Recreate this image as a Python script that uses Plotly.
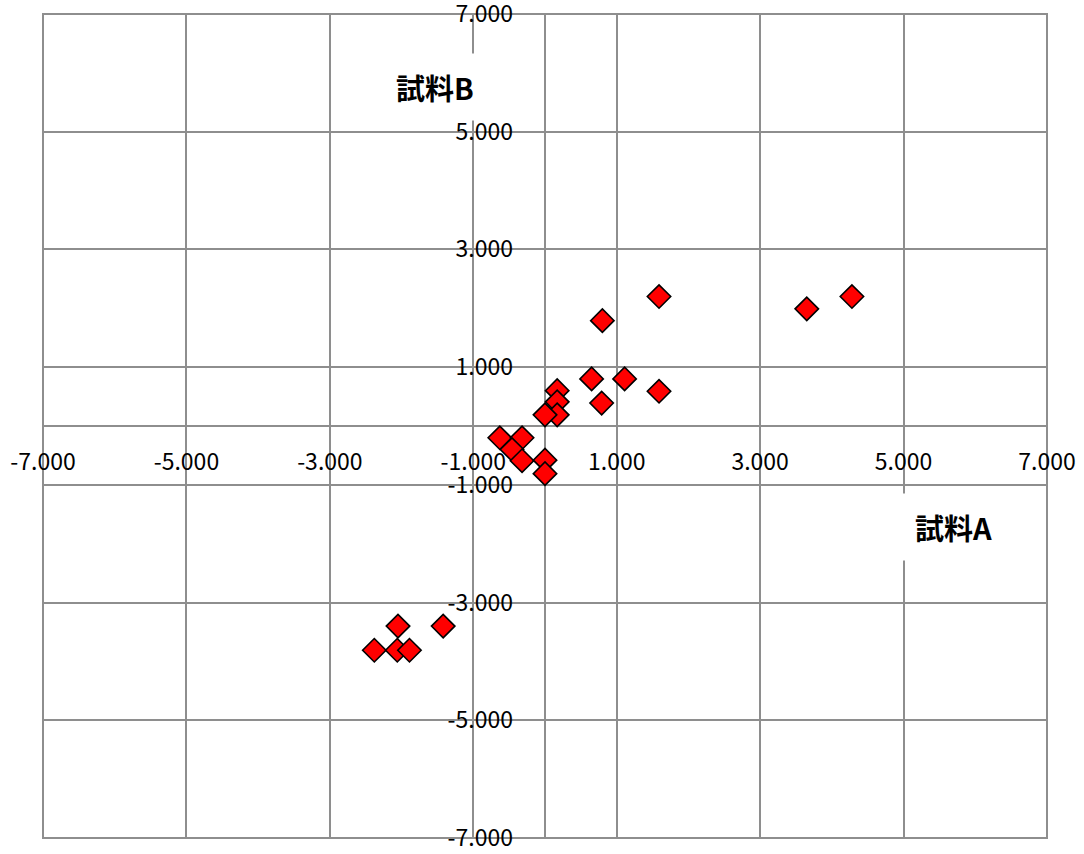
import plotly.graph_objects as go

# Data
sample_a = [4.28, 3.65, 1.59, 0.80, 0.65, 1.11, 1.59, 0.79, 0.17, 0.17, 0.17, 0.00,
            -0.63, -0.32, -0.46, -0.32, 0.00, 0.00, -1.42, -2.05, -2.38, -2.06, -1.89]
sample_b = [2.20, 1.99, 2.20, 1.79, 0.80, 0.80, 0.59, 0.39, 0.60, 0.41, 0.19, 0.19,
            -0.20, -0.20, -0.40, -0.59, -0.58, -0.81, -3.40, -3.40, -3.81, -3.81, -3.81]

tick_vals = [-7, -5, -3, -1, 1, 3, 5, 7]
tick_text = ["-7.000", "-5.000", "-3.000", "-1.000", "1.000", "3.000", "5.000", "7.000"]

x_title = "試料A"
y_title = "試料B"

grid_color = "#8e8e8e"
tick_font = dict(family="Noto Sans CJK JP, Liberation Sans, sans-serif", size=23, color="#000000")
title_font = dict(family="Noto Sans CJK JP, sans-serif", size=29, color="#000000")

fig = go.Figure()
fig.add_trace(go.Scatter(
    x=sample_a, y=sample_b, mode="markers",
    marker=dict(symbol="diamond", size=18, color="#ff0000",
                line=dict(color="#000000", width=1.6)),
    showlegend=False, hoverinfo="x+y",
))

fig.update_layout(
    width=1084, height=854,
    margin=dict(l=43, r=37, t=14, b=16, autoexpand=False),
    paper_bgcolor="#ffffff", plot_bgcolor="#ffffff",
    xaxis=dict(
        range=[-7, 7], tickvals=tick_vals, ticktext=tick_text,
        showgrid=True, gridcolor=grid_color, gridwidth=2,
        zeroline=True, zerolinecolor=grid_color, zerolinewidth=2,
        showline=False, ticks="", automargin=False,
        anchor="free", position=0.5, ticklabeloverflow="allow",
        tickfont=tick_font, ticklabelstandoff=20,
        fixedrange=True,
    ),
    yaxis=dict(
        range=[-7, 7], tickvals=tick_vals, ticktext=tick_text,
        showgrid=True, gridcolor=grid_color, gridwidth=2,
        zeroline=True, zerolinecolor=grid_color, zerolinewidth=2,
        showline=False, ticks="", automargin=False,
        anchor="free", position=0.5, ticklabeloverflow="allow",
        tickfont=tick_font, ticklabelstandoff=32,
        fixedrange=True,
    ),
    shapes=[
        dict(type="rect", xref="x domain", yref="y domain", x0=0, x1=1, y0=0, y1=1,
             line=dict(color=grid_color, width=2), fillcolor="rgba(0,0,0,0)", layer="below"),
    ],
    annotations=[
        dict(x=-1.53, y=5.76, xref="x", yref="y", text="<b>" + y_title + "</b>",
             showarrow=False, font=title_font, bgcolor="#ffffff", borderpad=12),
        dict(x=5.70, y=-1.72, xref="x", yref="y", text="<b>" + x_title + "</b>",
             showarrow=False, font=title_font, bgcolor="#ffffff", borderpad=12),
    ],
)

fig.write_html("out.html", config={"displayModeBar": False},
               post_script="document.body.style.margin='0';")
